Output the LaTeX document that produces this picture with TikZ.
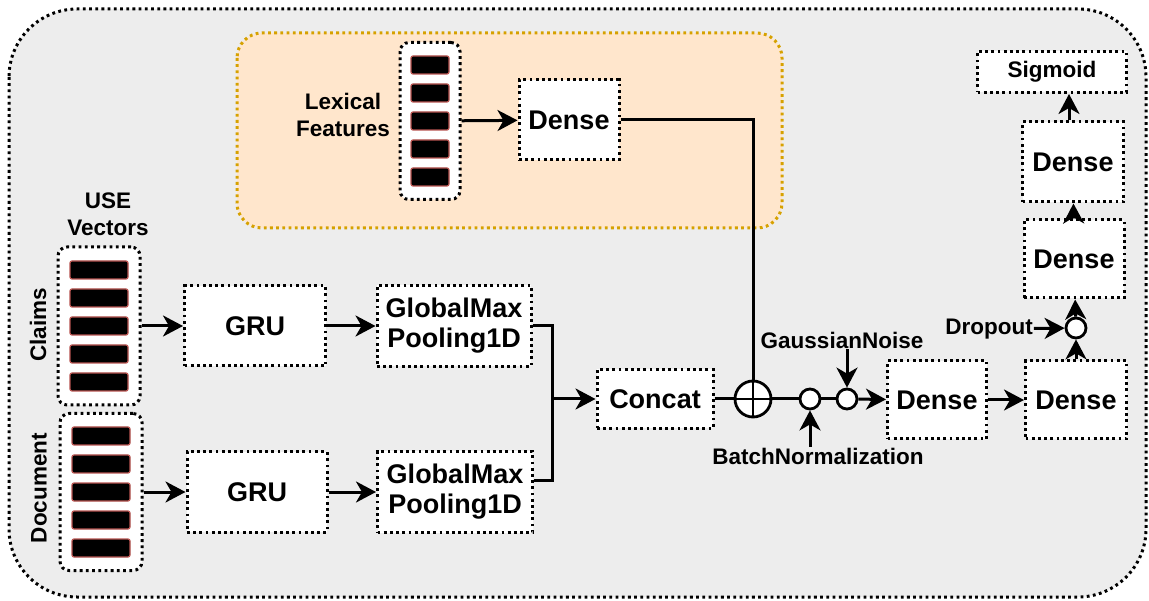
\documentclass[tikz,border=0pt]{standalone}
\usepackage{fontspec}
\setmainfont{Liberation Sans}
\usetikzlibrary{positioning, calc, arrows.meta}

\definecolor{bgGray}{HTML}{EDEDED}
\definecolor{lexFill}{HTML}{FFE6CC}
\definecolor{lexLine}{HTML}{D6A100}
\definecolor{barLine}{HTML}{B85450}

\tikzset{
  dots/.style={line width=3pt, dash pattern=on 2.8pt off 3.4pt},
  layer/.style={draw, dots, fill=white, font=\fontsize{27}{30}\selectfont\bfseries, align=center, inner sep=0pt},
  vecbox/.style={draw, dots, fill=white, rounded corners=9pt},
  bar/.style={draw=barLine, fill=black, line width=1.2pt, rounded corners=2pt, minimum height=18pt, inner sep=0pt},
  lbl/.style={font=\fontsize{22.5}{27}\selectfont\bfseries, align=center, inner sep=1pt},
  op/.style={circle, draw, fill=white, line width=2.8pt, minimum size=20pt, inner sep=0pt},
  conn/.style={line width=3pt},
  arr/.style={conn, -{Stealth[length=20pt, width=21pt, inset=6pt]}},
}

\begin{document}
\begin{tikzpicture}[x=1pt, y=-1pt]
    \useasboundingbox (0,0) rectangle (1149,601);

    % Rahmen
    \draw[dots, fill=bgGray, rounded corners=68pt] (9,9) rectangle (1146,597);
    \draw[dots, draw=lexLine, fill=lexFill, rounded corners=25pt] (237,33) rectangle (782,228);

    % Eingangsvektoren
    \node[vecbox, minimum width=60pt, minimum height=157pt] (lexvec) at (430,121) {};
    \node[vecbox, minimum width=82pt, minimum height=158pt] (claimvec) at (99,326) {};
    \node[vecbox, minimum width=82pt, minimum height=157pt] (docvec) at (101,492) {};
    \foreach \k in {-2,...,2} {
        \node[bar, minimum width=38pt] (lexbar\k) at ($(lexvec)+(0,\k*28)$) {};
        \node[bar, minimum width=58pt] (claimbar\k) at ($(claimvec)+(0,\k*28)$) {};
        \node[bar, minimum width=58pt] (docbar\k) at ($(docvec)+(0,\k*28)$) {};
    }

    % Beschriftungen
    \node[lbl] (lexlbl) at (343,115) {Lexical\\Features};
    \node[lbl] (uselbl) at (108,214) {USE\\Vectors};
    \node[lbl, rotate=90] (claimlbl) at (38,325) {Claims};
    \node[lbl, rotate=90] (doclbl) at (39,488) {Document};

    % Schichten
    \node[layer, minimum width=100pt, minimum height=80pt] (lexdense) at (569,120) {Dense};
    \node[layer, minimum width=141pt, minimum height=80pt] (gru1) at (255,326) {GRU};
    \node[layer, minimum width=140pt, minimum height=80pt] (gru2) at (257,492) {GRU};
    \node[layer, minimum width=154pt, minimum height=81pt] (gm1) at (454,326) {GlobalMax\\Pooling1D};
    \node[layer, minimum width=155pt, minimum height=81pt] (gm2) at (455,492) {GlobalMax\\Pooling1D};
    \node[layer, minimum width=116pt, minimum height=59pt] (concat) at (655,399) {Concat};
    \node[layer, minimum width=99pt, minimum height=78pt] (dense1) at (937,400) {Dense};
    \node[layer, minimum width=101pt, minimum height=78pt] (dense2) at (1076,400) {Dense};
    \node[layer, minimum width=100pt, minimum height=78pt] (dense3) at (1074,259) {Dense};
    \node[layer, minimum width=101pt, minimum height=80pt] (dense4) at (1073,162) {Dense};
    \node[layer, minimum width=149pt, minimum height=41pt, font=\fontsize{22.5}{27}\selectfont\bfseries] (sigmoid) at (1052,72) {Sigmoid};

    % Operatoren
    \node[op, minimum size=36pt] (plus) at (753,399) {};
    \draw[line width=2.8pt] (plus.north) -- (plus.south) (plus.west) -- (plus.east);
    \node[op] (bn) at (810,399) {};
    \node[op] (gn) at (847,399) {};
    \node[op] (drop) at (1076,328) {};
    \node[lbl] (bnlbl) at (818,456) {BatchNormalization};
    \node[lbl] (gnlbl) at (842,340) {GaussianNoise};
    \node[lbl] (droplbl) at (989,329) {Dropout};

    % Verbindungen
    \draw[arr] (lexvec) -- (lexdense);
    \draw[conn] (lexdense.east) -| (plus.north);
    \draw[arr] (claimvec) -- (gru1);
    \draw[arr] (docvec) -- (gru2);
    \draw[arr] (gru1) -- (gm1);
    \draw[arr] (gru2) -- (gm2);
    \coordinate (join) at (552,399);
    \draw[conn] (gm1.east) -| (join);
    \draw[conn] ([yshift=12pt]gm2.east) -| (join);
    \draw[arr] (join) -- (concat);
    \draw[conn] (concat) -- (plus);
    \draw[conn] (plus) -- (bn);
    \draw[conn] (bn) -- (gn);
    \draw[arr] (gn) -- (dense1);
    \draw[arr] (dense1) -- (dense2);
    \draw[arr] (bnlbl.north -| bn) -- (bn);
    \draw[arr] (gnlbl.south -| gn) -- (gn);
    \draw[arr] (droplbl) -- (drop);
    \draw[arr] (dense2) -- (drop);
    \draw[arr] (drop) -- (dense3);
    \draw[arr] (dense3) -- (dense4);
    \draw[arr] ([xshift=-4pt]dense4.north) -- ([xshift=-4pt]dense4.north |- sigmoid.south);
\end{tikzpicture}
\end{document}
